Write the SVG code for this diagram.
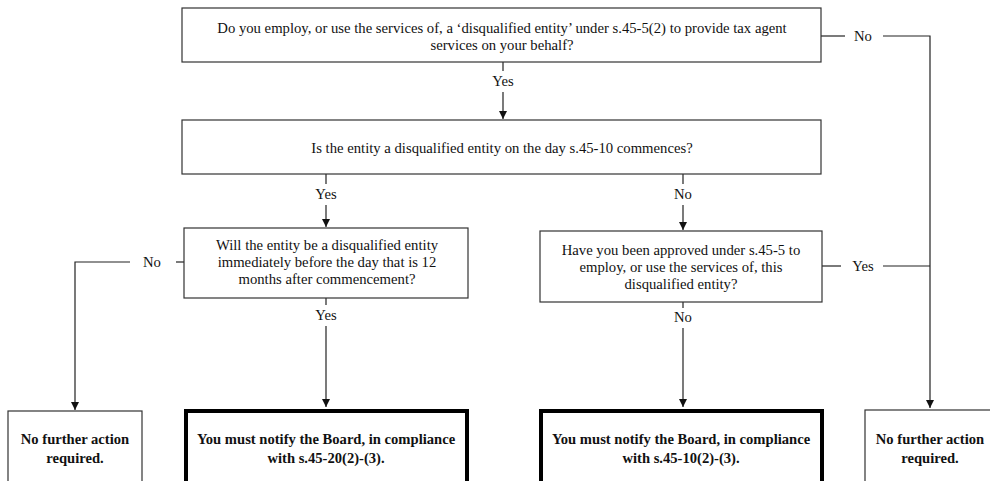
<svg xmlns="http://www.w3.org/2000/svg" width="990" height="481" viewBox="0 0 990 481">
<style>
text{font-family:'Liberation Serif','Times New Roman','DejaVu Serif',serif;font-size:14.7px;fill:#111;text-anchor:middle;dominant-baseline:central}
.b{font-weight:bold;font-size:14.6px}
.box{fill:#fff;stroke:#333;stroke-width:1.2}
.thick{fill:#fff;stroke:#000;stroke-width:4}
.c{fill:none;stroke:#222;stroke-width:1.2}
</style>
<defs>
<marker id="ah" viewBox="0 0 10 10" refX="10" refY="5" markerWidth="8" markerHeight="8" markerUnits="userSpaceOnUse" orient="auto">
<path d="M0,0 L10,5 L0,10 Z" fill="#111"/>
</marker>
</defs>
<g id="connectors">
<path class="c" d="M503,62 V71"/><text x="503" y="81">Yes</text><path class="c" d="M503,92 V119" marker-end="url(#ah)"/>
<path class="c" d="M821,36 H845"/><text x="863" y="36">No</text><path class="c" d="M883,36 H930 V408" marker-end="url(#ah)"/>
<path class="c" d="M326,174 V184"/><text x="326" y="194">Yes</text><path class="c" d="M326,205 V227" marker-end="url(#ah)"/>
<path class="c" d="M683,174 V184"/><text x="683" y="194">No</text><path class="c" d="M683,205 V230" marker-end="url(#ah)"/>
<path class="c" d="M184,262 H176"/><text x="152" y="262">No</text><path class="c" d="M130,262 H75 V410" marker-end="url(#ah)"/>
<path class="c" d="M326,298 V305"/><text x="326" y="315">Yes</text><path class="c" d="M326,326 V407" marker-end="url(#ah)"/>
<path class="c" d="M822,266 H841"/><text x="863" y="266">Yes</text><path class="c" d="M883,266 H930"/>
<path class="c" d="M683,302 V308"/><text x="683" y="317">No</text><path class="c" d="M683,328 V407" marker-end="url(#ah)"/>
</g>
<g id="q1"><rect class="box" x="182" y="8" width="639" height="54"/>
<text x="502" y="28">Do you employ, or use the services of, a ‘disqualified entity’ under s.45-5(2) to provide tax agent</text>
<text x="502" y="45">services on your behalf?</text></g>
<g id="q2"><rect class="box" x="182" y="120" width="639" height="54"/>
<text x="502" y="148">Is the entity a disqualified entity on the day s.45-10 commences?</text></g>
<g id="q3"><rect class="box" x="184" y="228" width="284" height="70"/>
<text x="327" y="245">Will the entity be a disqualified entity</text>
<text x="327" y="262">immediately before the day that is 12</text>
<text x="327" y="279">months after commencement?</text></g>
<g id="q4"><rect class="box" x="540" y="231" width="282" height="71"/>
<text x="681" y="250">Have you been approved under s.45-5 to</text>
<text x="681" y="267">employ, or use the services of, this</text>
<text x="681" y="284">disqualified entity?</text></g>
<g id="r1"><rect class="box" x="8" y="411" width="134" height="90"/>
<text class="b" x="75" y="439">No further action</text><text class="b" x="75" y="458">required.</text></g>
<g id="r2"><rect class="thick" x="186" y="411" width="281" height="90"/>
<text class="b" x="326" y="439">You must notify the Board, in compliance</text><text class="b" x="326" y="458">with s.45-20(2)-(3).</text></g>
<g id="r3"><rect class="thick" x="541" y="411" width="281" height="90"/>
<text class="b" x="681" y="439">You must notify the Board, in compliance</text><text class="b" x="681" y="458">with s.45-10(2)-(3).</text></g>
<g id="r4"><rect class="box" x="865" y="410" width="132" height="90"/>
<text class="b" x="930" y="439">No further action</text><text class="b" x="930" y="458">required.</text></g>
</svg>
